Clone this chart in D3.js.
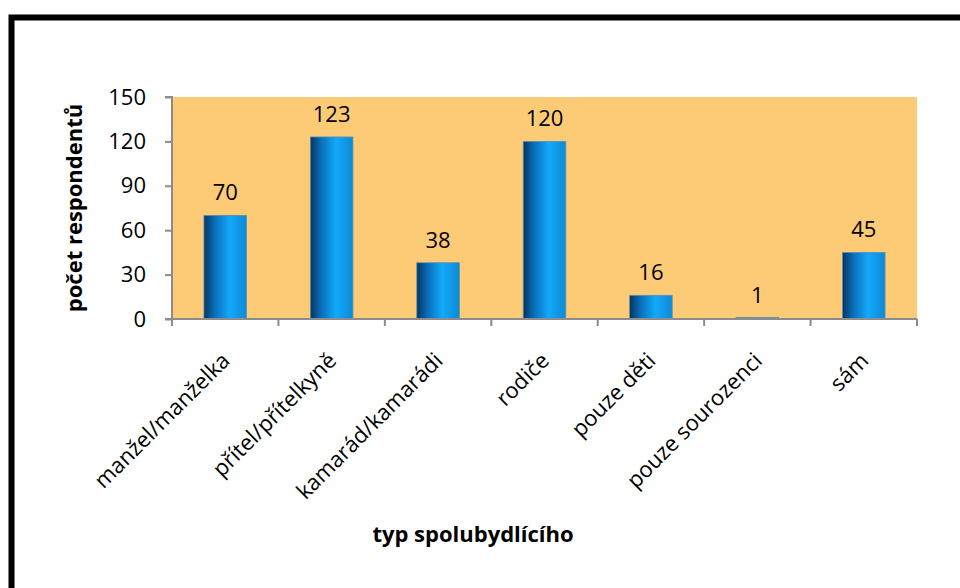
<!DOCTYPE html>
<html lang="cs">
<head>
<meta charset="UTF-8">
<title>typ spolubydlícího</title>
<script src="https://cdn.jsdelivr.net/npm/d3@7"></script>
<style>
  body { margin: 0; background: #fff; }
  text { font-family: "Open Sans", "Noto Sans", sans-serif; fill: #000; }
</style>
</head>
<body>
<div id="chart"></div>
<script>
    const categories = ["manžel/manželka", "přítel/přítelkyně", "kamarád/kamarádi", "rodiče", "pouze děti", "pouze sourozenci", "sám"];
    const values = [70, 123, 38, 120, 16, 1, 45];
    const yTicks = [0, 30, 60, 90, 120, 150];

    const width = 960, height = 588;
    const plot = {left: 172, right: 917, top: 97, bottom: 319};

    const svg = d3.select("#chart").append("svg")
        .attr("width", width)
        .attr("height", height);

    // gradient for bars
    const grad = svg.append("defs").append("linearGradient")
        .attr("id", "barGrad")
        .attr("x1", "0%").attr("x2", "100%").attr("y1", "0%").attr("y2", "0%");
    grad.append("stop").attr("offset", "0%").attr("stop-color", "#06355e");
    grad.append("stop").attr("offset", "25%").attr("stop-color", "#0a6db8");
    grad.append("stop").attr("offset", "60%").attr("stop-color", "#12a9fa");
    grad.append("stop").attr("offset", "100%").attr("stop-color", "#0d8ad6");

    // outer frame
    svg.append("rect")
        .attr("x", 11.5).attr("y", 17.5)
        .attr("width", 960).attr("height", 600)
        .attr("fill", "none")
        .attr("stroke", "#000")
        .attr("stroke-width", 6);

    const x = d3.scaleBand()
        .domain(categories)
        .range([plot.left, plot.right])
        .paddingInner(0.6)
        .paddingOuter(0.3);

    const y = d3.scaleLinear()
        .domain([0, 150])
        .range([plot.bottom, plot.top]);

    // plot background
    svg.append("rect")
        .attr("x", plot.left).attr("y", plot.top)
        .attr("width", plot.right - plot.left)
        .attr("height", plot.bottom - plot.top)
        .attr("fill", "#fdcb76");

    // bars
    svg.append("g")
        .selectAll("rect")
        .data(values)
        .join("rect")
        .attr("x", (d, i) => x(categories[i]))
        .attr("y", d => y(d))
        .attr("width", x.bandwidth())
        .attr("height", d => y(0) - y(d))
        .attr("fill", "url(#barGrad)")
        .attr("stroke", "#5b8fb3")
        .attr("stroke-width", 0.8);

    // value labels
    svg.append("g")
        .selectAll("text")
        .data(values)
        .join("text")
        .attr("x", (d, i) => x(categories[i]) + x.bandwidth() / 2)
        .attr("y", d => y(d) - 15)
        .attr("text-anchor", "middle")
        .attr("font-size", 22)
        .text(d => d);

    // y axis
    const gy = svg.append("g")
        .attr("transform", `translate(${plot.left},0)`)
        .call(d3.axisLeft(y).tickValues(yTicks).tickSize(7).tickPadding(19));
    gy.selectAll("path, line").attr("stroke", "#8c8c8c").attr("stroke-width", 2);
    gy.selectAll("text").attr("font-size", 22).attr("fill", "#000");
    gy.select(".domain").attr("d", `M-7,${plot.top}H0V${plot.bottom}`);

    // x axis with ticks at category boundaries
    const bounds = d3.range(categories.length + 1).map(i => plot.left + i * (plot.right - plot.left) / categories.length);
    const gx = svg.append("g");
    gx.append("line")
        .attr("x1", plot.left - 7).attr("x2", plot.right)
        .attr("y1", plot.bottom).attr("y2", plot.bottom)
        .attr("stroke", "#8c8c8c").attr("stroke-width", 2);
    gx.selectAll("line.tick")
        .data(bounds)
        .join("line")
        .attr("class", "tick")
        .attr("x1", d => d).attr("x2", d => d)
        .attr("y1", plot.bottom).attr("y2", plot.bottom + 7)
        .attr("stroke", "#8c8c8c").attr("stroke-width", 2);

    gx.selectAll("text")
        .data(categories)
        .join("text")
        .attr("transform", d => `translate(${x(d) + x.bandwidth() / 2 + 6},${plot.bottom + 43}) rotate(-45)`)
        .attr("text-anchor", "end")
        .attr("font-size", 22)
        .text(d => d);

    // axis titles
    svg.append("text")
        .attr("transform", `translate(82,${(plot.top + plot.bottom) / 2}) rotate(-90)`)
        .attr("text-anchor", "middle")
        .attr("font-size", 22)
        .attr("font-weight", "bold")
        .text("počet respondentů");

    svg.append("text")
        .attr("x", 473)
        .attr("y", 542)
        .attr("text-anchor", "middle")
        .attr("font-size", 22)
        .attr("font-weight", "bold")
        .text("typ spolubydlícího");
</script>
</body>
</html>
